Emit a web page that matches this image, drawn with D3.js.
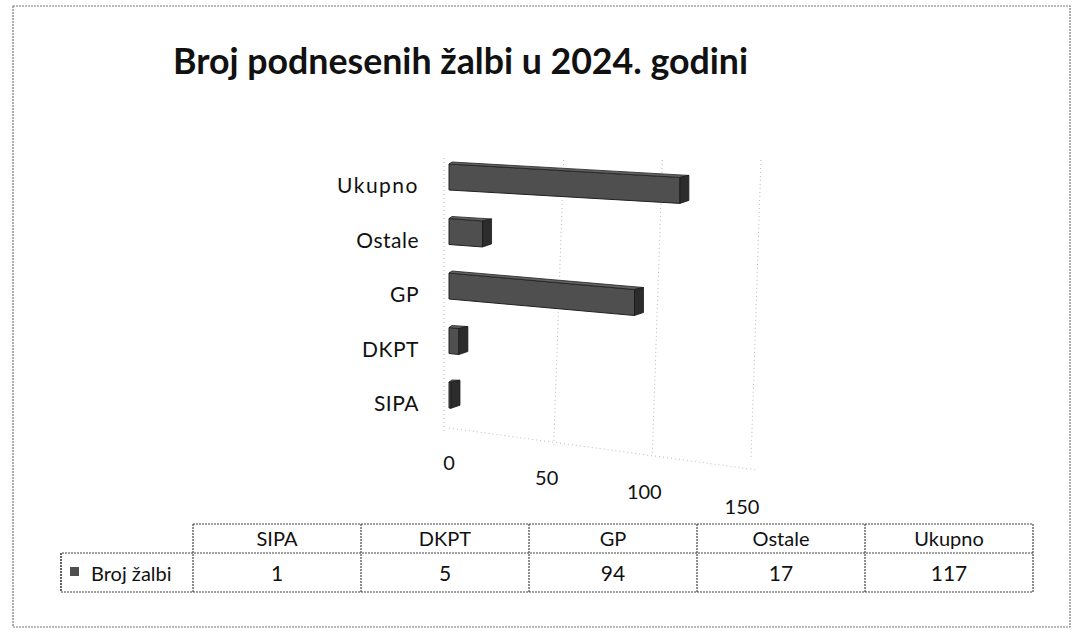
<!DOCTYPE html>
<html>
<head>
<meta charset="utf-8">
<script src="https://cdn.jsdelivr.net/npm/d3@7"></script>
<style>
  body { margin: 0; background: #fff; }
  text { font-family: Lato, "Open Sans", sans-serif; fill: #111; }
</style>
</head>
<body>
<div id="chart"></div>
<script>
// chart data
const title = "Broj podnesenih žalbi u 2024. godini";
const seriesName = "Broj žalbi";
const categories = ["SIPA", "DKPT", "GP", "Ostale", "Ukupno"];
const values = [1, 5, 94, 17, 117];
const tickValues = [0, 50, 100, 150];

const width = 1073, height = 637;

const svg = d3.select("#chart")
  .append("svg")
    .attr("width", width)
    .attr("height", height);

svg.append("rect").attr("width", width).attr("height", height).attr("fill", "#fff");

// outer frame (dotted, like the scan)
svg.append("rect")
  .attr("x", 13).attr("y", 6)
  .attr("width", 1057).attr("height", 621)
  .attr("fill", "none")
  .attr("stroke", "#777")
  .attr("stroke-width", 1.2)
  .attr("stroke-dasharray", "2,1");

// title
svg.append("text")
  .attr("x", 173).attr("y", 74)
  .attr("textLength", 575)
  .attr("lengthAdjust", "spacingAndGlyphs")
  .style("font-size", "36px")
  .style("font-weight", "bold")
  .text(title);

// scales
var x = d3.scaleLinear().domain([0, 150]).range([449, 745]);
var y = d3.scalePoint().domain(categories).range([395, 177]);
// perspective: lower rows slant more
var slope = d3.scaleLinear().domain([177, 395]).range([0.058, 0.12]);
// floor labels step down to the right
var yTick = d3.scaleLinear().domain([0, 150]).range([470, 514]);

const barH = 26, depth = 9;

// back wall / gridlines (faint dotted)
var grid = svg.append("g")
  .attr("stroke", "#bbb")
  .attr("stroke-width", 1)
  .attr("stroke-dasharray", "1,3")
  .attr("fill", "none");

grid.append("line")
  .attr("x1", x(0) - 5).attr("y1", 158)
  .attr("x2", x(0) - 5).attr("y2", 432);

grid.selectAll(".g")
  .data(tickValues.slice(1))
  .enter()
  .append("line")
    .attr("x1", d => x(d) + 16).attr("y1", 160)
    .attr("x2", d => x(d) + 6).attr("y2", d => 440 + (d / 150) * 20);

grid.append("line")
  .attr("x1", x(0)).attr("y1", 428)
  .attr("x2", x(150) + 12).attr("y2", 470);

// bars drawn as slanted 3D boxes
var bars = svg.append("g");

categories.forEach(function (c, i) {
  let v = values[i];
  let yc = y(c);
  let k = slope(yc);
  let x0 = x(0), x1 = x(v);
  let yt0 = yc - barH / 2, yb0 = yc + barH / 2;
  let yt1 = yt0 + k * (x1 - x0), yb1 = yb0 + k * (x1 - x0);

  // front face
  bars.append("path")
    .attr("d", "M" + x0 + "," + yt0 + "L" + x1 + "," + yt1 + "L" + x1 + "," + yb1 + "L" + x0 + "," + yb0 + "Z")
    .attr("fill", "#4f4f4f")
    .attr("stroke", "#222")
    .attr("stroke-width", 1);

  // top face
  bars.append("path")
    .attr("d", "M" + x0 + "," + yt0 + "L" + (x0 + 3) + "," + (yt0 - 2) + "L" + (x1 + depth) + "," + (yt1 - 2) + "L" + x1 + "," + yt1 + "Z")
    .attr("fill", "#626262")
    .attr("stroke", "#222")
    .attr("stroke-width", 0.8);

  // end face
  bars.append("path")
    .attr("d", "M" + x1 + "," + yt1 + "L" + (x1 + depth) + "," + (yt1 - 2) + "L" + (x1 + depth) + "," + (yb1 - 3) + "L" + x1 + "," + yb1 + "Z")
    .attr("fill", "#2c2c2c")
    .attr("stroke", "#1a1a1a")
    .attr("stroke-width", 0.8);
});

// category labels
svg.append("g")
  .selectAll("text")
  .data(categories)
  .enter()
  .append("text")
    .attr("x", 419)
    .attr("y", d => y(d) + 16)
    .style("text-anchor", "end")
    .style("font-size", "21px")
    .style("letter-spacing", d => d === "Ukupno" ? "1.5px" : "0.5px")
    .text(d => d);

// value axis labels
svg.append("g")
  .selectAll("text")
  .data(tickValues)
  .enter()
  .append("text")
    .attr("x", d => x(d) - d * 0.02)
    .attr("y", d => yTick(d))
    .style("text-anchor", "middle")
    .style("font-size", "20px")
    .text(d => d);

// data table under the chart
var col = d3.scaleBand().domain(categories).range([193, 1033]);
const rowTop = 524, rowMid = 553, rowBot = 592;

var table = svg.append("g")
  .attr("stroke", "#444")
  .attr("stroke-width", 1.2)
  .attr("stroke-dasharray", "2,1")
  .attr("fill", "none");

table.append("path")
  .attr("d", "M193," + rowTop + "H1033V" + rowBot + "H61V" + rowMid + "H1033");
table.selectAll(".v")
  .data(categories)
  .enter()
  .append("line")
    .attr("x1", d => col(d)).attr("y1", rowTop)
    .attr("x2", d => col(d)).attr("y2", rowBot);
table.append("line")
  .attr("x1", 61).attr("y1", rowMid)
  .attr("x2", 61).attr("y2", rowBot);

svg.append("g")
  .selectAll("text")
  .data(categories)
  .enter()
  .append("text")
    .attr("x", d => col(d) + col.bandwidth() / 2)
    .attr("y", rowTop + 22)
    .style("text-anchor", "middle")
    .style("font-size", "20px")
    .text(d => d);

svg.append("g")
  .selectAll("text")
  .data(values)
  .enter()
  .append("text")
    .attr("x", (d, i) => col(categories[i]) + col.bandwidth() / 2)
    .attr("y", rowMid + 28)
    .style("text-anchor", "middle")
    .style("font-size", "21px")
    .text(d => d);

// legend key in the table
svg.append("rect")
  .attr("x", 70).attr("y", 567)
  .attr("width", 9).attr("height", 9)
  .attr("fill", "#4f4f4f");

svg.append("text")
  .attr("x", 91).attr("y", rowMid + 28)
  .style("font-size", "20px")
  .text(seriesName);
</script>
</body>
</html>
